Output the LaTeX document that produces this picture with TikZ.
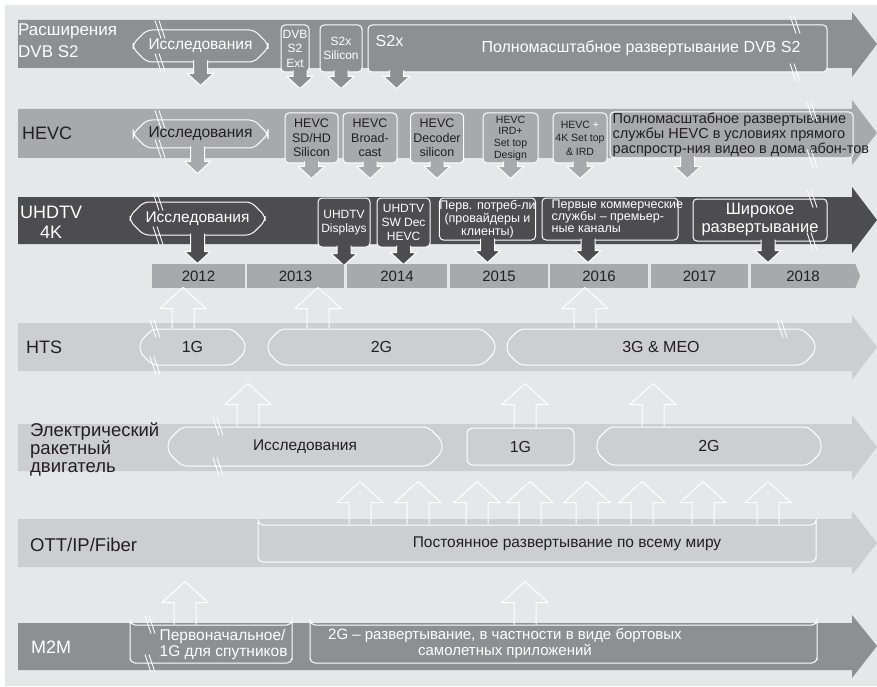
\documentclass[tikz,border=0pt]{standalone}
\usepackage{fontspec}
\setmainfont{Liberation Sans}
\usetikzlibrary{shapes.misc}
\definecolor{paper}{HTML}{E6E7E8}
\definecolor{dvbgray}{HTML}{8D8F92}
\definecolor{hevcgray}{HTML}{A7A9AC}
\definecolor{uhdgray}{HTML}{4D4D4F}
\definecolor{bandlight}{HTML}{CDCED0}
\definecolor{ink}{HTML}{231F20}
\newcommand{\fsz}[2]{\fontsize{#1}{#2}\selectfont}
\tikzset{
  pics/darr/.style={code={
    \path[pic actions] (-7,-2) -- (-7,{#1-12}) -- (-13,{#1-12}) -- (0,#1)
      -- (13,{#1-12}) -- (7,{#1-12}) -- (7,-2);
  }},
  pics/uarr/.style={code={
    \draw[white, line width=1pt] (-11,0) -- (-11,{21-#1}) -- (-23,{21-#1})
      -- (0,-#1) -- (23,{21-#1}) -- (11,{21-#1}) -- (11,0);
  }},
  pics/brk/.style={code={
    \draw[white, line width=0.9pt] (-5,-9) -- (1,9) (-1,-9) -- (5,9);
  }},
}

\begin{document}
\begin{tikzpicture}[x=1pt, y=-1pt,
    pill/.style={chamfered rectangle, chamfered rectangle xsep=7pt,
      chamfered rectangle ysep=7pt, rounded corners=5pt, draw=white,
      line width=1pt, inner sep=0pt, font=\fsz{15.5}{17}},
    tab/.style={rectangle, rounded corners=4pt, draw=white, line width=1pt,
      inner sep=0pt, align=center},
    rowlbl/.style={anchor=west, align=left, inner sep=0pt, font=\fsz{18}{20}},
    year/.style={fill=hevcgray, minimum height=24, inner sep=0pt, text=ink,
      font=\fsz{15}{17}},
    darrow/.style={fill=#1, draw=white, line width=1pt},
    boxtxt/.style={inner sep=0pt}
  ]
    \useasboundingbox (0,0) rectangle (877,687);
    \fill[paper] (5,5) rectangle (877,686);

    % bands
    \fill[dvbgray] (18,20) -- (852,20) -- (852,12) -- (877,44) -- (852,77)
      -- (852,68) -- (18,68) -- cycle;
    \fill[hevcgray] (18,109) -- (852,109) -- (852,100) -- (877,133)
      -- (852,165) -- (852,158) -- (18,158) -- cycle;
    \fill[uhdgray] (18,197) -- (852,197) -- (852,187) -- (877,220)
      -- (852,253) -- (852,244) -- (18,244) -- cycle;
    \fill[bandlight] (18,323) -- (852,323) -- (852,315) -- (877,347)
      -- (852,380) -- (852,371) -- (18,371) -- cycle;
    \fill[bandlight] (18,424) -- (852,424) -- (852,415) -- (877,447)
      -- (852,480) -- (852,471) -- (18,471) -- cycle;
    \fill[bandlight] (18,519) -- (852,519) -- (852,511) -- (877,543)
      -- (852,575) -- (852,567) -- (18,567) -- cycle;
    \fill[dvbgray] (18,623) -- (852,623) -- (852,615) -- (877,646)
      -- (852,678) -- (852,670) -- (18,670) -- cycle;

    % row labels
    \node[rowlbl, text=white, font=\fsz{17}{22}] (lbldvb) at (18,41)
      {Расширения\\DVB S2};
    \node[rowlbl, text=ink] (lblhevc) at (22,133) {HEVC};
    \node[rowlbl, text=white, align=center] (lbluhd) at (20,222) {UHDTV\\4K};
    \node[rowlbl, text=ink] (lblhts) at (26,347) {HTS};
    \node[rowlbl, text=ink, font=\fsz{18.5}{18}] (lblel) at (30,449)
      {Электрический\\ракетный\\двигатель};
    \node[rowlbl, text=ink, font=\fsz{18.5}{20}] (lblott) at (30,545)
      {OTT/IP/Fiber};
    \node[rowlbl, text=white] (lblm2m) at (31,647) {M2M};

    % DVB S2
    \node[pill, fill=dvbgray, minimum width=135, minimum height=32,
      text=white] (dvbres) at (200.5,46) {Исследования};
    \node[tab, fill=dvbgray, minimum width=28, minimum height=47, text=white,
      font=\fsz{12}{14.5}] (dvbext) at (295,48.5) {DVB\\S2\\Ext};
    \node[tab, fill=dvbgray, minimum width=42, minimum height=47, text=white,
      font=\fsz{12}{14.5}] (dvbsil) at (341,48.5) {S2x\\Silicon};
    \node[tab, fill=dvbgray, minimum width=459, minimum height=47]
      (dvbfull) at (597.5,48.5) {};
    \node[boxtxt, anchor=north west, text=white, font=\fsz{16}{18}] (dvbs2x)
      at ([xshift=8pt, yshift=-11pt]dvbfull.north west) {S2x};
    \node[boxtxt, text=white, font=\fsz{16}{18}] (dvbfulltxt) at (641,48)
      {Полномасштабное развертывание DVB S2};
    \pic[darrow=dvbgray] at (dvbres.south) {darr=23};
    \pic[darrow=dvbgray] at ([xshift=5pt]dvbext.south) {darr=16};
    \pic[darrow=dvbgray] at (dvbsil.south) {darr=16};
    \pic[darrow=dvbgray] at ([xshift=29pt]dvbfull.south west) {darr=16};
    \pic at ([xshift=-40.5pt]dvbres.north) {brk};
    \pic at ([xshift=-40.5pt]dvbres.south) {brk};
    \pic at ([xshift=197.5pt]dvbfull.north) {brk};
    \pic at ([xshift=197.5pt]dvbfull.south) {brk};

    % HEVC
    \node[pill, fill=hevcgray, minimum width=135, minimum height=28,
      text=ink] (hevcres) at (200.5,134) {Исследования};
    \node[tab, fill=hevcgray, minimum width=53, minimum height=50, text=ink,
      font=\fsz{12.5}{14.5}] (hevcsd) at (311.5,138) {HEVC\\SD/HD\\Silicon};
    \node[tab, fill=hevcgray, minimum width=54, minimum height=50, text=ink,
      font=\fsz{12.5}{14.5}] (hevcbc) at (370,138) {HEVC\\Broad-\\cast};
    \node[tab, fill=hevcgray, minimum width=53, minimum height=50, text=ink,
      font=\fsz{12.5}{14.5}] (hevcdec) at (437,138) {HEVC\\Decoder\\silicon};
    \node[tab, fill=hevcgray, minimum width=55, minimum height=50, text=ink,
      font=\fsz{10.5}{11.7}] (hevcird) at (510.5,138)
      {HEVC\\IRD+\\Set top\\Design};
    \node[tab, fill=hevcgray, minimum width=54, minimum height=50, text=ink,
      font=\fsz{10.5}{13.5}] (hevc4k) at (580,138)
      {HEVC \textcolor{white}{+}\\4K Set top\\\& IRD};
    \node[tab, fill=hevcgray, minimum width=243, minimum height=46]
      (hevcfull) at (731.5,135) {};
    \node[boxtxt, anchor=west, align=left, text=ink, font=\fsz{14.5}{15}]
      (hevcfulltxt) at ([xshift=3pt]hevcfull.west)
      {Полномасштабное развертывание\\службы HEVC в условиях прямого\\распростр-ния видео в дома абон-тов};
    \pic[darrow=hevcgray] at ([xshift=-3pt]hevcres.south) {darr=25};
    \pic[darrow=hevcgray] at (hevcsd.south) {darr=15};
    \pic[darrow=hevcgray] at (hevcbc.south) {darr=15};
    \pic[darrow=hevcgray] at (hevcdec.south) {darr=15};
    \pic[darrow=hevcgray] at (hevcird.south) {darr=15};
    \pic[darrow=hevcgray] at (hevc4k.south) {darr=15};
    \pic[darrow=hevcgray] at ([xshift=-44pt]hevcfull.south) {darr=20};
    \pic at ([xshift=-40.5pt]hevcres.north) {brk};
    \pic at ([xshift=-40.5pt]hevcres.south) {brk};
    \pic at ([xshift=80.5pt]hevcfull.north) {brk};
    \pic at ([xshift=80.5pt]hevcfull.south) {brk};

    % UHDTV 4K
    \node[pill, fill=uhdgray, minimum width=135, minimum height=33,
      text=white] (uhdres) at (197.5,218.5) {Исследования};
    \node[tab, fill=uhdgray, minimum width=52, minimum height=49, text=white,
      font=\fsz{12}{14}] (uhddisp) at (344,222.5) {UHDTV\\Displays};
    \node[tab, fill=uhdgray, minimum width=53, minimum height=49, text=white,
      font=\fsz{12}{14}] (uhdsw) at (403.5,222.5) {UHDTV\\SW Dec\\HEVC};
    \node[tab, fill=uhdgray, minimum width=95, minimum height=42, text=white,
      font=\fsz{12.5}{11.5}] (uhdcons) at (487.5,219)
      {Перв. потреб-ли\\(провайдеры и\\клиенты)};
    \node[tab, fill=uhdgray, minimum width=136, minimum height=42]
      (uhdcomm) at (610,219) {};
    \node[boxtxt, anchor=west, align=left, text=white, font=\fsz{12.5}{11.5}]
      (uhdcommtxt) at ([xshift=10pt, yshift=3pt]uhdcomm.west)
      {Первые коммерческие\\службы – премьер-\\ные каналы};
    \node[tab, fill=uhdgray, minimum width=134, minimum height=42, text=white,
      font=\fsz{16.5}{18}] (uhdwide) at (760,220) {Широкое\\развертывание};
    \pic[darrow=uhdgray] at (uhdres.south) {darr=28};
    \pic[darrow=uhdgray] at (uhddisp.south) {darr=18};
    \pic[darrow=uhdgray] at (uhdsw.south) {darr=17};
    \pic[darrow=uhdgray] at (uhdcons.south) {darr=22};
    \pic[darrow=uhdgray] at ([xshift=-22pt]uhdcomm.south) {darr=22};
    \pic[darrow=uhdgray] at ([xshift=8pt]uhdwide.south) {darr=21};
    \pic at ([xshift=-39.5pt]uhdres.north) {brk};
    \pic at ([xshift=-39.5pt]uhdres.south) {brk};
    \pic at ([xshift=52pt]uhdwide.north) {brk};
    \pic at ([xshift=52pt]uhdwide.south) {brk};

    % years
    \node[year, minimum width=93] (y2012) at (198.5,276) {2012};
    \node[year, minimum width=97] (y2013) at (295.5,276) {2013};
    \node[year, minimum width=100] (y2014) at (397,276) {2014};
    \node[year, minimum width=98] (y2015) at (499,276) {2015};
    \node[year, minimum width=98] (y2016) at (599,276) {2016};
    \node[year, minimum width=97] (y2017) at (699.5,276) {2017};
    \node[year, minimum width=104] (y2018) at (803,276) {2018};
    \fill[hevcgray] (y2018.north east) -- ([xshift=5pt]y2018.east)
      -- (y2018.south east) -- cycle;

    % HTS
    \node[pill, fill=bandlight, minimum width=105, minimum height=36,
      text=ink, font=\fsz{16}{18}] (hts1g) at (192.5,347) {1G};
    \node[pill, fill=bandlight, minimum width=227, minimum height=36,
      text=ink, font=\fsz{16}{18}] (hts2g) at (381.5,347) {2G};
    \node[pill, fill=bandlight, minimum width=308, minimum height=36,
      text=ink, font=\fsz{16}{18}] (hts3g) at (661,347) {3G \& MEO};
    \pic at ([xshift=-9.5pt]hts1g.north) {uarr=41};
    \pic at ([xshift=-63.5pt]hts2g.north) {uarr=41};
    \pic at ([xshift=-76pt]hts3g.north) {uarr=41};
    \pic at ([xshift=-37.5pt]hts1g.north) {brk};
    \pic at ([xshift=-37.5pt]hts1g.south) {brk};
    \pic at ([xshift=121pt]hts3g.north) {brk};

    % electric propulsion
    \node[pill, fill=bandlight, minimum width=274, minimum height=39,
      text=ink] (elres) at (305,446.5) {Исследования};
    \node[tab, rounded corners=6pt, fill=bandlight, minimum width=107,
      minimum height=37, text=ink, font=\fsz{16}{18}] (el1g) at (520.5,446.5)
      {1G};
    \node[pill, fill=bandlight, minimum width=224, minimum height=38,
      text=ink, font=\fsz{16}{18}] (el2g) at (709,446) {2G};
    \pic at ([xshift=-57pt]elres.north) {uarr=43};
    \pic at ([xshift=4.5pt]el1g.north) {uarr=44};
    \pic at ([xshift=-56pt]el2g.north) {uarr=43};
    \pic at ([xshift=-87pt]elres.north) {brk};
    \pic at ([xshift=-87pt]elres.south) {brk};

    % OTT/IP/Fiber
    \node[pill, fill=bandlight, minimum width=558, minimum height=37]
      (ottbox) at (537,543.5) {};
    \node[boxtxt, text=ink, font=\fsz{15.5}{17}] (otttxt) at (567,544)
      {Постоянное развертывание по всему миру};
    \pic at ([xshift=-177pt]ottbox.north) {uarr=43};
    \pic at ([xshift=-119pt]ottbox.north) {uarr=43};
    \pic at ([xshift=-60pt]ottbox.north) {uarr=43};
    \pic at ([xshift=-7pt]ottbox.north) {uarr=43};
    \pic at ([xshift=50pt]ottbox.north) {uarr=43};
    \pic at ([xshift=105pt]ottbox.north) {uarr=43};
    \pic at ([xshift=166pt]ottbox.north) {uarr=43};
    \pic at ([xshift=231pt]ottbox.north) {uarr=43};

    % M2M
    \node[pill, fill=dvbgray, minimum width=162, minimum height=38]
      (m2m1) at (211,644) {};
    \node[boxtxt, anchor=west, align=left, text=white, font=\fsz{15.5}{16}]
      (m2m1txt) at ([xshift=30pt]m2m1.west)
      {Первоначальное/\\1G для спутников};
    \node[pill, fill=dvbgray, minimum width=507, minimum height=38]
      (m2m2) at (563.5,644) {};
    \node[boxtxt, align=center, text=white, font=\fsz{15}{16}] (m2m2txt)
      at (505,644)
      {2G – развертывание, в частности в виде бортовых\\самолетных приложений};
    \pic at ([xshift=-26pt]m2m1.north) {uarr=43};
    \pic at ([xshift=-38.5pt]m2m2.north) {uarr=43};
    \pic at ([xshift=-61pt]m2m1.north) {brk};
    \pic at ([xshift=-61pt]m2m1.south) {brk};
\end{tikzpicture}
\end{document}
